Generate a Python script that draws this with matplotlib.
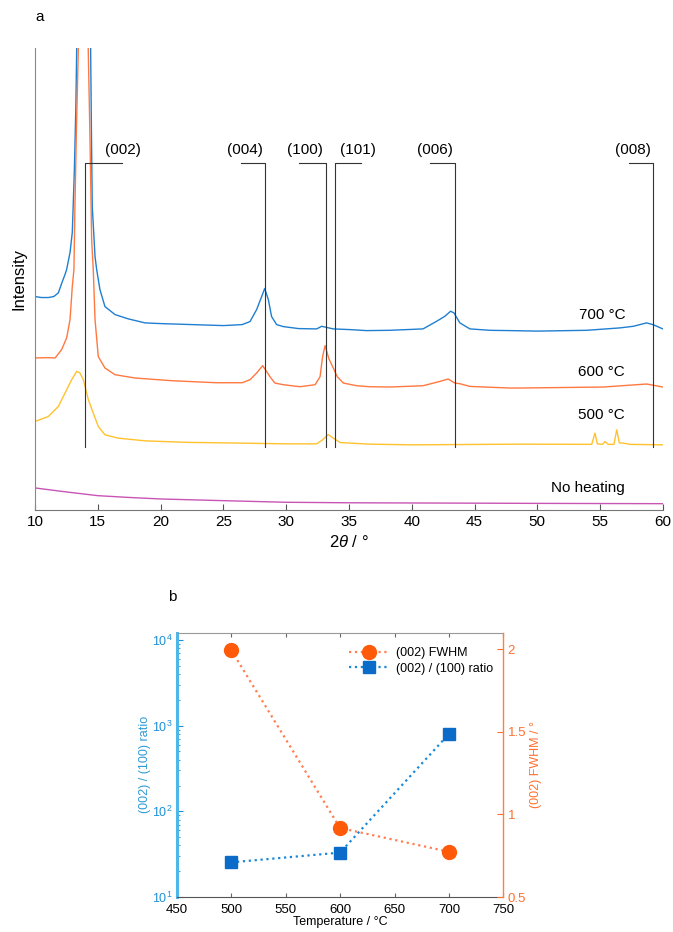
import matplotlib
matplotlib.use('Agg')
import matplotlib.pyplot as plt
from matplotlib.lines import Line2D

plt.rcParams['font.family'] = ['Liberation Sans', 'DejaVu Sans']
plt.rcParams['mathtext.fontset'] = 'custom'
plt.rcParams['mathtext.rm'] = 'Liberation Sans'
plt.rcParams['mathtext.it'] = 'Liberation Sans:italic'

# ---- panel a : XRD patterns (intensity in arbitrary units)
tt_700 = [10, 10.5, 11.06, 11.5, 11.86, 12.12, 12.39, 12.52, 12.79, 12.97, 13.13,
          13.25, 13.32, 13.85, 14.43, 14.5, 14.56, 14.78, 14.91, 15.17, 15.57,
          16.37, 17.43, 18.76, 20, 22.5, 25, 26.5, 27.12, 27.65, 28.05, 28.29,
          28.58, 28.84, 29.24, 29.77, 31, 32.43, 32.83, 33.75, 35.08, 36.4, 38.26,
          40.9, 41.98, 42.64, 43.09, 43.36, 43.83, 44.63, 46.22, 47.8, 50, 53.93,
          56.58, 57.64, 58.7, 59.2, 60]
int_700 = [213, 212, 212, 213, 216.7, 226, 235, 240, 257, 277, 337,
           400, 460, 1300, 460, 370, 303, 253, 240, 220, 203,
           195, 190.7, 186.7, 186, 185, 184, 185, 188, 200, 213, 221,
           210, 193, 185, 183, 181, 180.7, 183.3, 180.7, 180, 179, 179.3,
           180.7, 188.3, 193.3, 198.3, 196.7, 186.7, 180.7, 179.3, 179, 178.5, 179.3,
           181.7, 183.3, 186.7, 185, 180.7]

tt_600 = [10, 11, 11.6, 12.12, 12.52, 12.79, 12.97, 13.1, 13.18, 13.3, 13.45,
          13.85, 14.24, 14.38, 14.51, 14.64, 14.78, 15.04, 15.57, 16.37, 17.96,
          20.9, 24.4, 26.5, 27.12, 27.65, 28.13, 28.45, 28.71, 29.1, 29.77, 31.1,
          32.3, 32.7, 32.9, 33.1, 33.4, 33.75, 34.07, 34.55, 35.6, 36.66, 38.26,
          40.9, 42.24, 42.9, 43.43, 43.83, 44.63, 47.8, 48.62, 55.25, 58.7, 60]
int_600 = [151.7, 152, 151.7, 160, 171.7, 190, 223, 240, 303, 380, 460,
           1300, 460, 370, 270, 240, 190, 153, 141.7, 135, 131.7,
           129, 127, 127, 130, 136.7, 144, 138, 133, 126.7, 125, 123,
           125, 133, 153, 164, 151, 141.7, 133, 126.7, 124, 123, 122.7,
           124, 128.3, 130.7, 126.7, 126, 123.3, 121.7, 121.7, 122.7, 125.7, 122.7]

tt_500 = [10, 11.06, 11.86, 12.39, 12.92, 13.32, 13.58, 13.85, 14.25, 14.64,
          15.04, 15.57, 16.63, 18.76, 22, 26, 30, 32.43, 32.9, 33.35, 33.75,
          34.3, 36.66, 40, 48.62, 54.33, 54.59, 54.78, 55.2, 55.39, 55.65, 56.1,
          56.32, 56.53, 56.85, 57.38, 60]
int_500 = [88.3, 93.3, 103.3, 116.7, 130, 138.3, 136.7, 130, 110, 96.7,
           83.3, 75, 71.7, 69, 67.5, 66.8, 66, 66, 70, 75.3, 71.7,
           67.3, 65.7, 65, 65.7, 65.5, 76.7, 66, 65.5, 68.3, 65.5, 65.5,
           80, 67, 66.7, 65.5, 65]

tt_raw = [10, 12.5, 15, 17.5, 20, 25, 30, 35, 40, 50, 60]
int_raw = [22, 18, 14.3, 12.5, 11, 9.3, 7.7, 7.2, 7, 6.6, 6.3]

peak_names = ['(002)', '(004)', '(100)', '(101)', '(006)', '(008)']
peak_pos = [13.96, 28.32, 33.14, 33.89, 43.42, 59.21]
bracket_end = [16.94, 26.4, 31.0, 35.97, 41.44, 57.27]
label_pos = [17.0, 26.7, 31.5, 35.7, 41.85, 57.6]

# ---- panel b : crystallinity vs temperature
temps = [500, 600, 700]
fwhm = [1.995, 0.918, 0.774]
ratio = [25.4, 33.0, 800]

c_700 = '#1f7fd0'
c_600 = '#ff7840'
c_500 = '#ffc22e'
c_raw = '#c855b4'

fig = plt.figure(figsize=(6.73, 9.32), dpi=100)

ax = fig.add_axes([0.052, 0.4528, 0.933, 0.4957])
ax.plot(tt_700, int_700, color=c_700, lw=1.0)
ax.plot(tt_600, int_600, color=c_600, lw=1.0)
ax.plot(tt_500, int_500, color=c_500, lw=1.0)
ax.plot(tt_raw, int_raw, color=c_raw, lw=1.0)

for name, p, b, lp in zip(peak_names, peak_pos, bracket_end, label_pos):
    ax.plot([p, p, b], [63, 346.7, 346.7], color='#333333', lw=0.8)
    ax.text(lp, 352, name, ha='center', va='bottom', fontsize=11)

ax.text(57.0, 195, '700 °C', ha='right', va='center', fontsize=11)
ax.text(57.0, 138, '600 °C', ha='right', va='center', fontsize=11)
ax.text(57.0, 95, '500 °C', ha='right', va='center', fontsize=11)
ax.text(57.0, 22, 'No heating', ha='right', va='center', fontsize=11)

ax.set_xlim(10, 60)
ax.set_ylim(0, 461)
ax.set_xticks(range(10, 61, 5))
ax.set_yticks([])
ax.tick_params(axis='x', direction='in', length=4, labelsize=11, color='#555555')
for s in ['top', 'right']:
    ax.spines[s].set_visible(False)
ax.spines['left'].set_color('#888888')
ax.spines['bottom'].set_color('#777777')
ax.set_xlabel(r'2$\theta$ / °', fontsize=12)
ax.set_ylabel('Intensity', fontsize=12, labelpad=6)
fig.text(0.059, 0.982, 'a', fontsize=11, ha='center', va='center')

# ---- panel b
bx = fig.add_axes([0.2626, 0.0375, 0.4854, 0.2836])
bx.plot(temps, ratio, ls=':', lw=1.6, color='#1a88d8', marker='s', ms=8,
        mfc='#0a6cc8', mec='#0a6cc8', zorder=3)
bx.set_yscale('log')
bx.set_ylim(10, 10 ** 4.084)
bx.set_xlim(450, 750)
bx.set_xticks(range(450, 751, 50))
bx.tick_params(axis='x', direction='in', labelsize=9.5, top=True, color='#666666',
               length=3, pad=5)
bx.tick_params(axis='y', which='both', direction='in', labelsize=9, colors='#1e90d6',
               pad=3)
bx.tick_params(axis='y', which='major', length=4)
bx.tick_params(axis='y', which='minor', length=2)
bx.spines['left'].set_color('#4db8e8')
bx.spines['left'].set_linewidth(2.2)
bx.spines['top'].set_color('#999999')
bx.spines['bottom'].set_color('#555555')
bx.spines['right'].set_visible(False)
bx.set_xlabel('Temperature / °C', fontsize=9, labelpad=0)
bx.set_ylabel('(002) / (100) ratio', fontsize=9, color='#2e9bd6', labelpad=1)

rx = bx.twinx()
rx.plot(temps, fwhm, ls=':', lw=1.6, color='#ff7f50', marker='o', ms=10,
        mfc='#ff5a0a', mec='#ff5a0a', zorder=3)
rx.set_ylim(0.5, 2.1)
rx.set_yticks([0.5, 1, 1.5, 2])
rx.set_yticklabels(['0.5', '1', '1.5', '2'])
rx.tick_params(axis='y', direction='in', labelsize=9.5, colors='#ff7030', length=4,
               pad=3)
rx.spines['right'].set_color('#ff8040')
rx.spines['right'].set_linewidth(1.0)
for s in ['left', 'top', 'bottom']:
    rx.spines[s].set_visible(False)
rx.set_ylabel('(002) FWHM / °', fontsize=9, color='#ff7030', labelpad=3)

handles = [Line2D([], [], ls=':', lw=1.6, color='#ff7f50', marker='o', ms=10,
                  mfc='#ff5a0a', mec='#ff5a0a'),
           Line2D([], [], ls=':', lw=1.6, color='#1a88d8', marker='s', ms=8,
                  mfc='#0a6cc8', mec='#0a6cc8')]
rx.legend(handles, ['(002) FWHM', '(002) / (100) ratio'], loc='upper right',
          bbox_to_anchor=(0.985, 0.965), frameon=False, fontsize=9,
          handlelength=3.2, borderaxespad=0, labelspacing=0.3,
          handletextpad=0.6)
fig.text(0.256, 0.359, 'b', fontsize=11, ha='center', va='center')

fig.savefig('out.png', dpi=100)
